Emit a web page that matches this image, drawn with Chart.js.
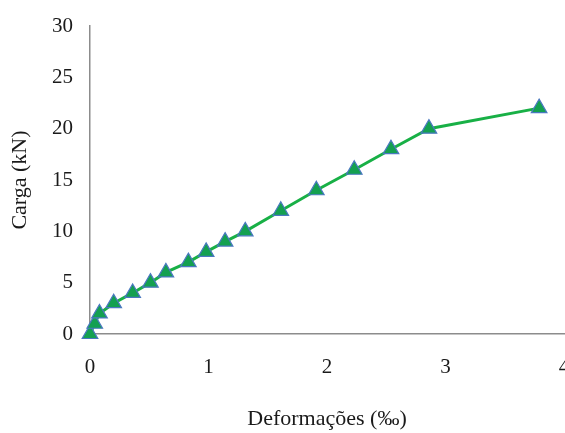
<!DOCTYPE html>
<html>
<head>
<meta charset="utf-8">
<script src="https://cdn.jsdelivr.net/npm/chart.js@4/dist/chart.umd.min.js"></script>
<style>
html,body{margin:0;padding:0;background:#fff;}
#wrap{width:565px;height:433px;}
</style>
</head>
<body>
<div id="wrap"><canvas id="c" width="565" height="433"></canvas></div>
<script>
const deformacoes = [0, 0.04, 0.08, 0.20, 0.36, 0.51, 0.64, 0.83, 0.98, 1.14, 1.31, 1.61, 1.91, 2.23, 2.54, 2.86, 3.79];
const carga       = [0, 1, 2, 3, 4, 5, 6, 7, 8, 9, 10, 12, 14, 16, 18, 20, 22];
const xTicks = [0, 1, 2, 3, 4];
const yTicks = [0, 5, 10, 15, 20, 25, 30];
const xTitle = 'Deformações (‰)';
const yTitle = 'Carga (kN)';

const points = deformacoes.map((x, i) => ({x: x, y: carga[i]}));
const tickFont = {family: '"Liberation Serif", "Times New Roman", serif', size: 21};
const titleFont = {family: '"Liberation Serif", "Times New Roman", serif', size: 22};

new Chart(document.getElementById('c'), {
  type: 'scatter',
  data: {
    datasets: [{
      data: points,
      showLine: true,
      borderColor: '#18b046',
      borderWidth: 3,
      pointStyle: 'triangle',
      pointRadius: 9,
      pointHoverRadius: 9,
      pointBackgroundColor: '#14a050',
      pointBorderColor: '#4a78c0',
      pointBorderWidth: 1.2,
      clip: false,
      tension: 0
    }]
  },
  options: {
    responsive: false,
    animation: false,
    devicePixelRatio: 1,
    layout: {autoPadding: false, padding: {top: 26, right: 1, left: 0, bottom: 0}},
    plugins: {legend: {display: false}, tooltip: {enabled: false}},
    scales: {
      x: {
        type: 'linear', min: 0, max: 4,
        afterBuildTicks: s => { s.ticks = xTicks.map(v => ({value: v})); },
        afterFit: s => {
          s.height = 99; s.paddingLeft = 0; s.paddingRight = 0;
          if (s._margins) { s._margins.right = 0; s._margins.left = 0; }
        },
        grid: {display: false, drawTicks: false},
        border: {display: true, color: '#8c8c8c', width: 1.5},
        ticks: {font: tickFont, color: '#1a1a1a', padding: 21, maxRotation: 0, autoSkip: false},
        title: {display: true, text: xTitle, font: titleFont, color: '#1a1a1a', padding: {top: 0, bottom: 1}}
      },
      y: {
        type: 'linear', min: 0, max: 30,
        afterBuildTicks: s => { s.ticks = yTicks.map(v => ({value: v})); },
        afterFit: s => {
          s.width = 90; s.paddingTop = 0; s.paddingBottom = 0;
          if (s._margins) { s._margins.top = 0; s._margins.bottom = 0; }
        },
        grid: {display: false, drawTicks: false},
        border: {display: true, color: '#8c8c8c', width: 1.5},
        ticks: {font: tickFont, color: '#1a1a1a', padding: 17, autoSkip: false},
        title: {display: true, text: yTitle, font: titleFont, color: '#1a1a1a', padding: {top: 7, bottom: 0}}
      }
    }
  }
});
</script>
</body>
</html>
